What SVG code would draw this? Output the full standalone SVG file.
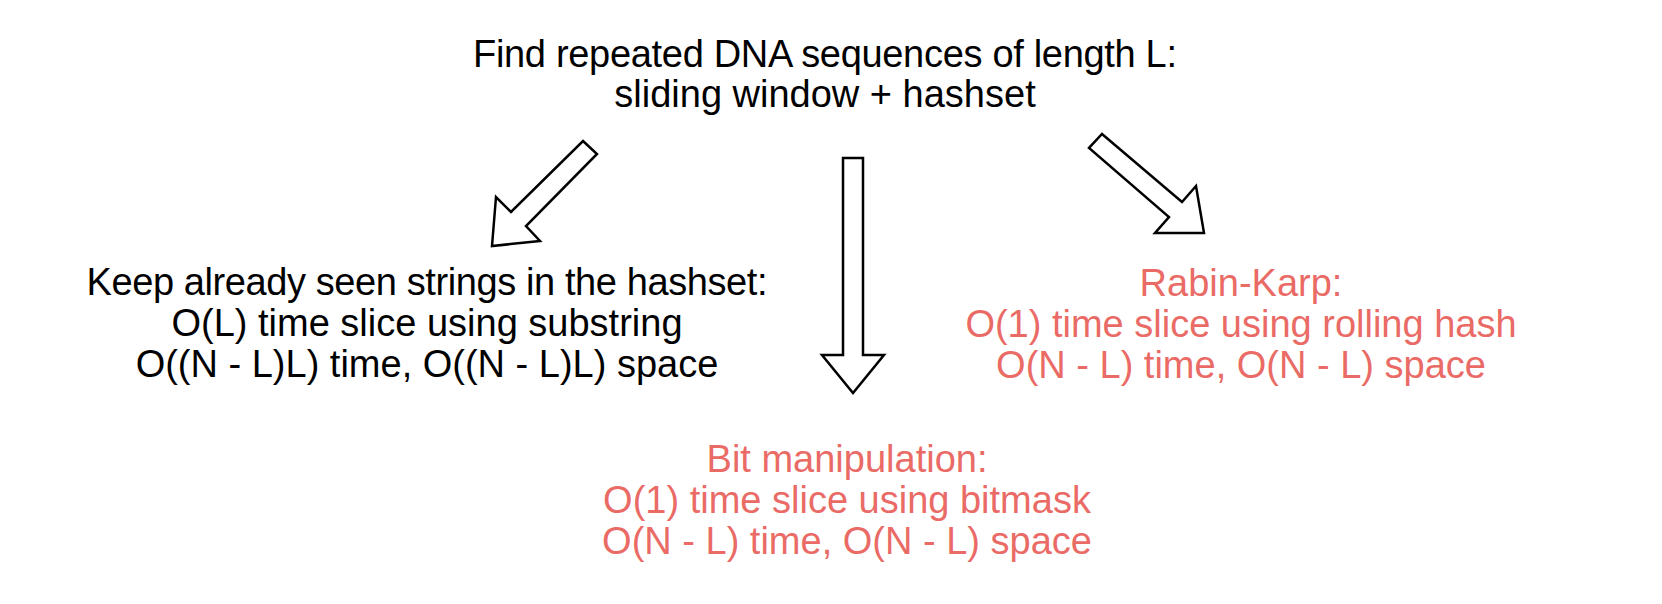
<svg xmlns="http://www.w3.org/2000/svg" width="1662" height="604" viewBox="0 0 1662 604">
<style>
.t{font-family:"Liberation Sans",Arial,sans-serif;font-size:38px;text-anchor:middle}
.k{fill:#000000}
.r{fill:#EA6B66}
.a{fill:#ffffff;stroke:#000000;stroke-width:2.5;stroke-linejoin:miter}
</style>
<rect width="1662" height="604" fill="#ffffff"/>
<g id="title">
<text class="t k" x="825" y="67" textLength="704">Find repeated DNA sequences of length L:</text>
<text class="t k" x="825" y="107">sliding window + hashset</text>
</g>
<g id="connectors">
<polygon class="a" points="583,141 597,154 526,226 540,241 492,246 496,197 511,212"/>
<polygon class="a" points="843,158 863,158 863,355 884,355 853,393 822,355 843,355"/>
<polygon class="a" points="1102,134 1182,202 1196,186 1204,233 1155,233 1169,217 1089,148"/>
</g>
<g id="hashset">
<text class="t k" x="427" y="295" textLength="681">Keep already seen strings in the hashset:</text>
<text class="t k" x="427" y="336">O(L) time slice using substring</text>
<text class="t k" x="427" y="377">O((N - L)L) time, O((N - L)L) space</text>
</g>
<g id="bitmanip">
<text class="t r" x="847" y="472">Bit manipulation:</text>
<text class="t r" x="847" y="513">O(1) time slice using bitmask</text>
<text class="t r" x="847" y="554">O(N - L) time, O(N - L) space</text>
</g>
<g id="rabinkarp">
<text class="t r" x="1241" y="296">Rabin-Karp:</text>
<text class="t r" x="1241" y="337">O(1) time slice using rolling hash</text>
<text class="t r" x="1241" y="378">O(N - L) time, O(N - L) space</text>
</g>
</svg>
